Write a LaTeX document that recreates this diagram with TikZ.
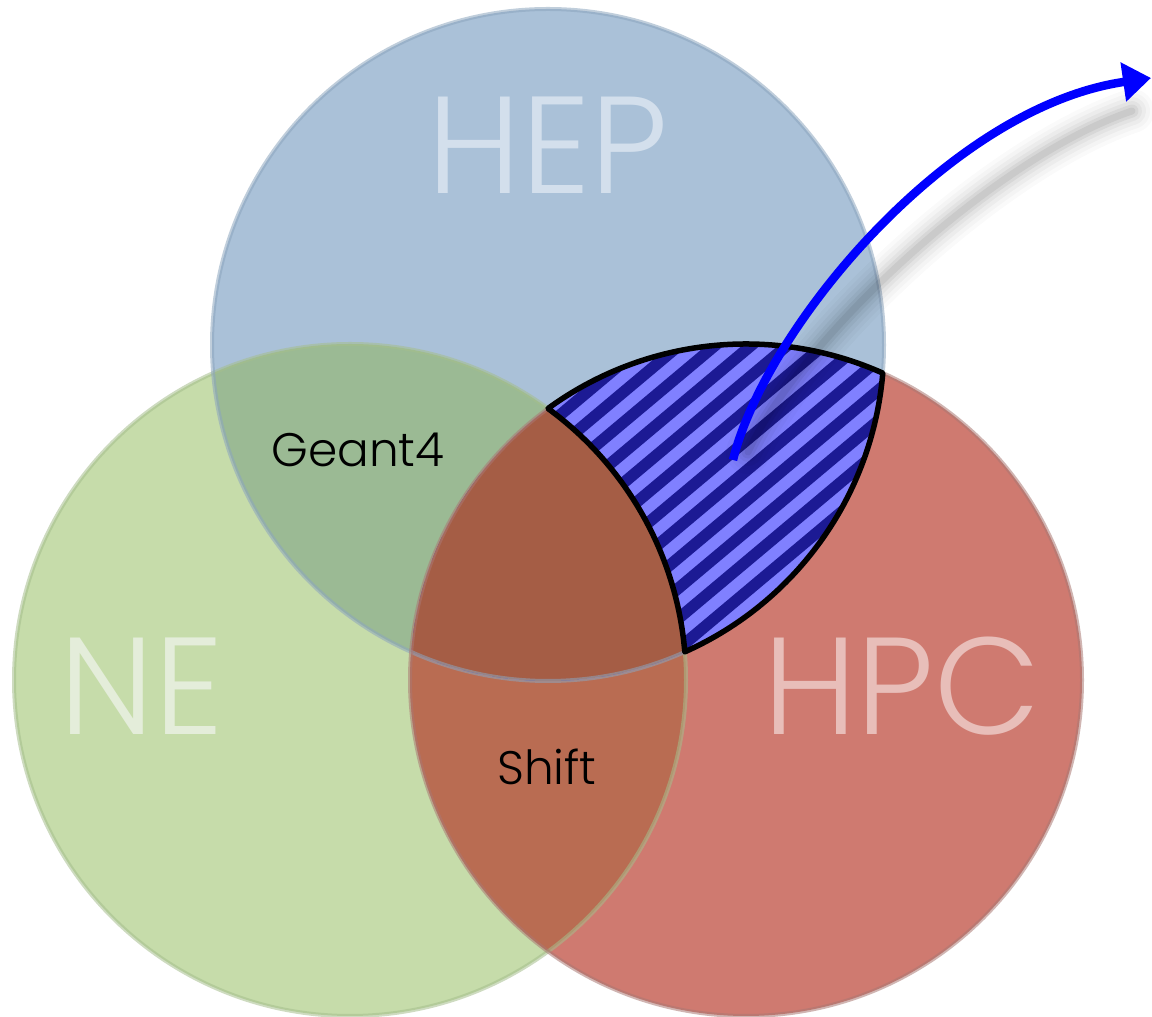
\documentclass[tikz,border=0pt]{standalone}
\usepackage{fontspec}
\setmainfont{Poppins Light}
\usetikzlibrary{arrows.meta}
\definecolor{neFill}{RGB}{198,220,170}
\definecolor{hepFill}{RGB}{170,193,216}
\definecolor{hpcFill}{RGB}{207,122,112}
\definecolor{heneFill}{RGB}{155,186,148}
\definecolor{nehpcFill}{RGB}{185,108,82}
\definecolor{tripleFill}{RGB}{165,93,69}
\definecolor{hatchLight}{RGB}{128,128,255}
\definecolor{hatchDark}{RGB}{28,26,148}
\definecolor{hepEdge}{RGB}{140,165,190}
\definecolor{neEdge}{RGB}{165,190,140}
\definecolor{hpcEdge}{RGB}{170,120,115}
\definecolor{hepText}{RGB}{211,223,236}
\definecolor{neText}{RGB}{228,237,218}
\definecolor{hpcText}{RGB}{232,190,185}
\begin{document}
\begin{tikzpicture}[x=1pt,y=1pt,
  setedge/.style={line width=4pt, draw opacity=0.55},
  bigname/.style={font=\fontsize{138}{138}\selectfont, inner sep=0pt},
  smallname/.style={font=\fontsize{47}{47}\selectfont, inner sep=0pt, text=black},
  stripe/.style={hatchDark, line width=11.5pt},
  link/.style={blue, line width=8.5pt, -{Triangle[length=28pt,width=38pt]}},
  linkshadow/.style={black, line cap=round}
]
\useasboundingbox (0,0) rectangle (1152,1017);
\coordinate (hep) at (548,672);
\coordinate (ne) at (350,337);
\coordinate (hpc) at (746,337);

% the three sets
\fill[neFill] (ne) circle[radius=336];
\fill[hepFill] (hep) circle[radius=336];
\fill[hpcFill] (hpc) circle[radius=336];

% pairwise overlaps
\begin{scope}
  \clip (hep) circle[radius=336];
  \fill[heneFill] (ne) circle[radius=336];
\end{scope}
\begin{scope}
  \clip (ne) circle[radius=336];
  \fill[nehpcFill] (hpc) circle[radius=336];
\end{scope}

% HEP and HPC overlap, striped
\begin{scope}
  \clip (hep) circle[radius=336];
  \clip (hpc) circle[radius=336];
  \fill[hatchLight] (hpc) circle[radius=336];
  \begin{scope}[rotate around={40:(715,520)}]
    \foreach \i in {-12,...,12}
      \draw[stripe] (395,520+\i*23.2) -- (1035,520+\i*23.2);
  \end{scope}
\end{scope}

% triple overlap
\begin{scope}
  \clip (hep) circle[radius=336];
  \clip (ne) circle[radius=336];
  \fill[tripleFill] (hpc) circle[radius=336];
\end{scope}

% circle rims
\draw[setedge, neEdge] (ne) circle[radius=336];
\draw[setedge, hepEdge] (hep) circle[radius=336];
\draw[setedge, hpcEdge] (hpc) circle[radius=336];

% outline of the highlighted region
\draw[black, line width=5.5pt, line join=round]
  (548,608.5) arc[start angle=126.1, end angle=65.97, radius=336]
  arc[start angle=-4.8, end angle=-65.97, radius=336]
  arc[start angle=4.8, end angle=53.9, radius=336] -- cycle;

% labels
\node[bigname, text=hepText] (lhep) at (548,872) {HEP};
\node[bigname, text=neText] (lne) at (142,331) {NE};
\node[bigname, text=hpcText] (lhpc) at (902,331) {HPC};
\node[smallname] (lgeant) at (358,567) {Geant4};
\node[smallname] (lshift) at (547,250) {Shift};

% arrow leaving the highlighted region, with a soft cast shadow
\coordinate (src) at (733,557);
\coordinate (dst) at (1151,939);
\foreach \w/\o in {44/0.02,36/0.025,28/0.03,20/0.04,13/0.05,7/0.06}
  \draw[linkshadow, line width=\w pt, draw opacity=\o]
    (748,565) .. controls (800,678) and (995,860) .. (1132,906);
\draw[link] (src) .. controls (766,690) and (950,910) .. (dst);
\end{tikzpicture}
\end{document}
